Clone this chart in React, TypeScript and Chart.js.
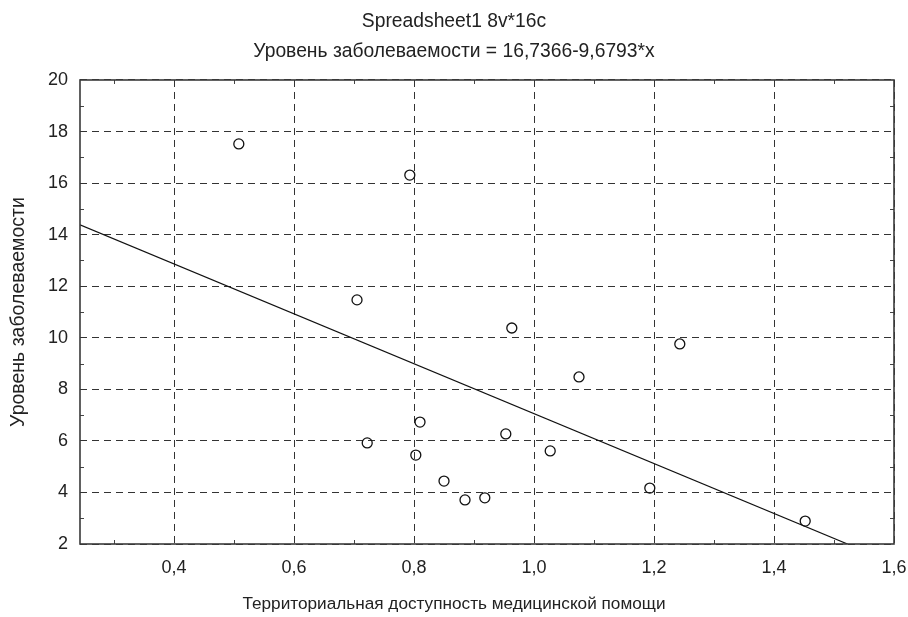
import React, { useEffect, useRef } from "react";
import { Chart, registerables } from "chart.js";

Chart.register(...registerables);

const titleLines = ["Spreadsheet1 8v*16c", "Уровень заболеваемости = 16,7366-9,6793*x"];
const xAxisTitle = "Территориальная доступность медицинской помощи";
const yAxisTitle = "Уровень заболеваемости";

const accessX = [0.508, 0.793, 0.705, 0.963, 1.243, 1.075, 0.81, 0.722, 0.953, 0.803, 1.027, 0.85, 0.885, 0.918, 1.193, 1.452];
const morbidityY = [17.52, 16.31, 11.47, 10.38, 9.76, 8.48, 6.73, 5.92, 6.27, 5.45, 5.61, 4.44, 3.71, 3.79, 4.17, 2.89];

const intercept = 16.7366;
const slope = -9.6793;
const xMin = 0.2433;
const xMax = 1.6;
const yMin = 2;
const yMax = 20;

const fmt = (v: number, d: number) => v.toFixed(d).replace(".", ",");

const frame = {
  id: "frame",
  afterDatasetsDraw(chart: any) {
    const { ctx, chartArea: a, scales } = chart;
    ctx.save();
    ctx.strokeStyle = "#444";
    ctx.lineWidth = 1;
    const L = 4;
    for (let v = 0.3; v < xMax; v += 0.2) {
      const px = Math.round(scales.x.getPixelForValue(v)) + 0.5;
      ctx.beginPath();
      ctx.moveTo(px, a.bottom); ctx.lineTo(px, a.bottom - L);
      ctx.moveTo(px, a.top); ctx.lineTo(px, a.top + L);
      ctx.stroke();
    }
    for (let v = 3; v < yMax; v += 2) {
      const py = Math.round(scales.y.getPixelForValue(v)) + 0.5;
      ctx.beginPath();
      ctx.moveTo(a.left, py); ctx.lineTo(a.left + L, py);
      ctx.moveTo(a.right, py); ctx.lineTo(a.right - L, py);
      ctx.stroke();
    }
    ctx.strokeStyle = "#3a3a3a";
    ctx.lineWidth = 1.6;
    ctx.strokeRect(a.left, a.top, a.right - a.left, a.bottom - a.top);
    ctx.restore();
  },
};

export default function App() {
  const ref = useRef<HTMLCanvasElement | null>(null);
  useEffect(() => {
    if (!ref.current) return;
    const font = "'Liberation Sans', Arial, sans-serif";
    const lineX = [xMin, (yMin - intercept) / slope];
    const chart = new Chart(ref.current, {
      type: "scatter",
      data: {
        datasets: [
          {
            label: "fit",
            type: "line",
            data: lineX.map((x) => ({ x, y: intercept + slope * x })),
            borderColor: "#111",
            borderWidth: 1.2,
            pointRadius: 0,
            fill: false,
            order: 2,
          } as any,
          {
            label: "data",
            data: accessX.map((x, i) => ({ x, y: morbidityY[i] })),
            pointStyle: "circle",
            pointRadius: 5,
            pointBorderWidth: 1.3,
            pointBackgroundColor: "rgba(255,255,255,0)",
            pointBorderColor: "#111",
            order: 1,
          },
        ],
      },
      options: {
        animation: false,
        responsive: false,
        maintainAspectRatio: false,
        layout: { padding: { left: 0, right: 0, top: 0, bottom: 0 } },
        plugins: {
          legend: { display: false },
          tooltip: { enabled: false },
          title: {
            display: true,
            text: titleLines,
            color: "#222",
            font: { family: font, size: 19.3, weight: "normal", lineHeight: 1.58 },
            padding: { top: 6, bottom: 13 },
          },
          subtitle: {
            display: true,
            position: "bottom",
            text: xAxisTitle,
            color: "#222",
            font: { family: font, size: 17.2, weight: "normal", lineHeight: 1.2 },
            padding: { top: 0, bottom: 2 },
          },
        },
        scales: {
          x: {
            type: "linear",
            min: xMin,
            max: xMax,
            border: { display: false, dash: [7, 5] },
            grid: {
              color: "#333",
              lineWidth: 1,
              drawTicks: false,
              tickLength: 0,
            },
            ticks: {
              stepSize: 0.2,
              includeBounds: false,
              padding: 13,
              color: "#222",
              font: { family: font, size: 18 },
              callback: (v: any) => fmt(Number(v), 1),
            },
            afterFit: (s: any) => { s.height = 50.36; s.paddingRight = 14; },
          },
          y: {
            type: "linear",
            min: yMin,
            max: yMax,
            border: { display: false, dash: [7, 5] },
            grid: {
              color: "#333",
              lineWidth: 1,
              drawTicks: false,
              tickLength: 0,
            },
            ticks: {
              stepSize: 2,
              padding: 12,
              color: "#222",
              font: { family: font, size: 18 },
              callback: (v: any) => fmt(Number(v), 0),
            },
            title: {
              display: true,
              text: yAxisTitle,
              color: "#222",
              font: { family: font, size: 19.5 },
              padding: { top: 7.3, bottom: 0 },
            },
            afterFit: (s: any) => { s.width = 80; },
          },
        },
      },
      plugins: [frame],
    });
    return () => chart.destroy();
  }, []);
  return (
    <div style={{ position: "fixed", left: 0, top: 0, width: 908, height: 617, background: "#fff" }}>
      <canvas ref={ref} width={908} height={617} style={{ width: 908, height: 617 }} />
    </div>
  );
}
